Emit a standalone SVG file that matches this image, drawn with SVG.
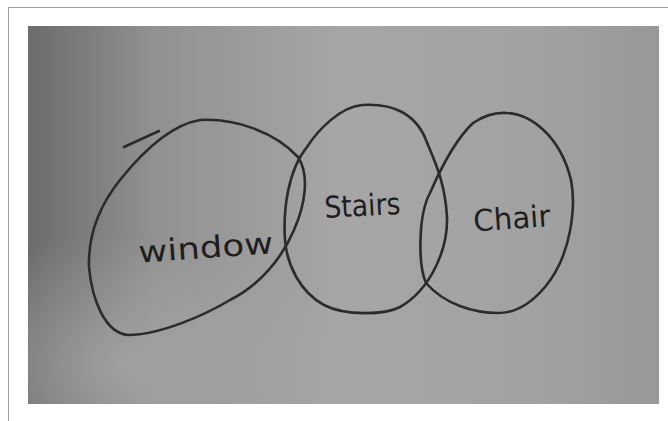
<svg xmlns="http://www.w3.org/2000/svg" width="668" height="421" viewBox="0 0 668 421">
<defs>
<linearGradient id="bg" x1="0" y1="0" x2="1" y2="0">
<stop offset="0" stop-color="#6c6c6c"/>
<stop offset="0.2" stop-color="#919191"/>
<stop offset="0.5" stop-color="#a6a6a6"/>
<stop offset="0.8" stop-color="#a2a2a2"/>
<stop offset="1" stop-color="#989898"/>
</linearGradient>
<radialGradient id="hl" cx="0.15" cy="0.9" r="0.35">
<stop offset="0" stop-color="#b0b0b0" stop-opacity="0.6"/>
<stop offset="1" stop-color="#b0b0b0" stop-opacity="0"/>
</radialGradient>
</defs>
<style>
.ring{fill:none;stroke:#2b2b2b;stroke-width:2.6;stroke-linecap:round;stroke-linejoin:round}
.lbl{font-family:"DejaVu Sans","Liberation Sans",sans-serif;font-size:30px;fill:#1e1e1e}
</style>
<rect x="0" y="0" width="668" height="421" fill="#ffffff"/>
<rect x="8.5" y="7.5" width="680" height="440" fill="none" stroke="#a0a0a0" stroke-width="1"/>
<rect x="28" y="26" width="631" height="378" fill="url(#bg)"/>
<rect x="28" y="26" width="631" height="378" fill="url(#hl)"/>
<g id="window">
<path class="ring" d="M200,120 C235,118 275,132 298,157 C310,175 305,205 294,230 C282,258 260,285 230,300 C205,315 160,335 128,335 C105,333 92,300 89,267 C88,235 100,205 120,180 C140,155 170,125 200,120 Z"/>
<path class="ring" d="M124,147 L159,131" stroke-width="3.2"/>
<text class="lbl" x="138" y="258" textLength="135" lengthAdjust="spacingAndGlyphs" transform="rotate(-4 205 245)">window</text>
</g>
<g id="stairs">
<path class="ring" d="M362,105 C390,103 415,112 426,140 C433,158 445,180 447,217 C448,250 430,290 400,307 C385,315 345,316 324,305 C300,292 287,265 285,240 C283,210 288,170 307,147 C318,130 340,107 362,105 Z"/>
<text class="lbl" x="324" y="216" textLength="76" lengthAdjust="spacingAndGlyphs" transform="rotate(-3 362 200)">Stairs</text>
</g>
<g id="chair">
<path class="ring" d="M507,113 C530,114 560,135 571,180 C576,205 572,255 545,287 C530,305 515,313 498,313 C475,313 445,305 426,283 C418,265 418,215 430,193 C440,170 455,140 473,123 C485,115 495,112 507,113 Z"/>
<text class="lbl" x="473" y="229" textLength="77" lengthAdjust="spacingAndGlyphs" transform="rotate(-4 510 215)">Chair</text>
</g>
<g id="connectors"/>
</svg>
